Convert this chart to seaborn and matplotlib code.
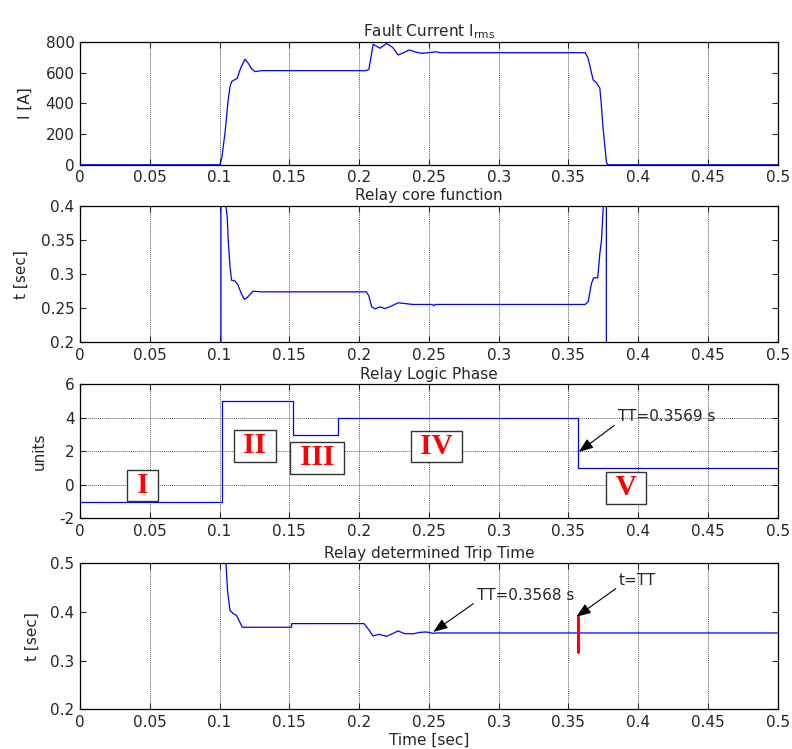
import matplotlib
matplotlib.use("Agg")
import matplotlib.pyplot as plt
import seaborn as sns

# ---- values ----
x_ticks = [0, 0.05, 0.1, 0.15, 0.2, 0.25, 0.3, 0.35, 0.4, 0.45, 0.5]
x_tick_labels = ["0", "0.05", "0.1", "0.15", "0.2", "0.25", "0.3", "0.35", "0.4", "0.45", "0.5"]

# panel 1: fault current (A)
current_t = [0, 0.1003, 0.1017, 0.1039, 0.1062, 0.1075, 0.1087, 0.1127, 0.1151, 0.1182,
             0.1206, 0.1230, 0.1254, 0.1301, 0.2046, 0.2070, 0.2085, 0.2101, 0.2149, 0.2197,
             0.2240, 0.2280, 0.2320, 0.2360, 0.2400, 0.2447, 0.2500, 0.2550, 0.2580, 0.3620,
             0.3640, 0.3660, 0.3677, 0.3700, 0.3725, 0.3735, 0.3747, 0.3772, 0.3780, 0.5000]
current_a = [0, 0, 50, 207, 423, 509, 542, 564, 629, 687,
             661, 625, 607, 613, 613, 620, 700, 785, 759, 790,
             765, 715, 730, 748, 735, 726, 730, 736, 730, 730,
             696, 620, 553, 535, 500, 400, 250, 20, 0, 0]
current_yticks = [0, 200, 400, 600, 800]

# panel 2: relay core function (s); poles at pickup and drop-off
core_t = [0.1010, 0.1010, 0.1046, 0.1055, 0.1062, 0.1075, 0.1086, 0.1110, 0.1130, 0.1155,
          0.1177, 0.1200, 0.1240, 0.1300, 0.2053, 0.2070, 0.2090, 0.2115, 0.2150, 0.2185,
          0.2230, 0.2280, 0.2320, 0.2386, 0.2525, 0.2535, 0.2545, 0.3620, 0.3642, 0.3665,
          0.3680, 0.3710, 0.3725, 0.3737, 0.3750, 0.3772, 0.3772]
core_s = [0.0, 1.0, 0.400, 0.384, 0.350, 0.311, 0.291, 0.290, 0.285, 0.272,
          0.263, 0.266, 0.275, 0.274, 0.274, 0.268, 0.252, 0.249, 0.252, 0.2495,
          0.253, 0.258, 0.257, 0.2555, 0.2555, 0.2535, 0.2555, 0.2555, 0.260, 0.286,
          0.2946, 0.2946, 0.330, 0.350, 0.400, 1.0, 0.0]
core_yticks = [0.2, 0.25, 0.3, 0.35, 0.4]

# panel 3: relay logic phase
phase_t = [0, 0.1015, 0.1523, 0.1850, 0.3569, 0.5]
phase_u = [-1, 5, 3, 4, 1, 1]
phase_yticks = [-2, 0, 2, 4, 6]
phase_names = ["I", "II", "III", "IV", "V"]
phase_label_t = [0.0449, 0.1254, 0.1698, 0.2555, 0.3913]
phase_label_u = [-0.05, 2.32, 1.60, 2.29, -0.18]

# panel 4: relay determined trip time (s)
trip_t = [0.1046, 0.1057, 0.1075, 0.1100, 0.1122, 0.1163, 0.1516, 0.1516, 0.2035, 0.2065,
          0.2100, 0.2140, 0.2197, 0.2244, 0.2280, 0.2325, 0.2387, 0.2435, 0.2483, 0.2530,
          0.2555, 0.5000]
trip_s = [0.500, 0.4445, 0.403, 0.396, 0.393, 0.3685, 0.3685, 0.376, 0.376, 0.365,
          0.3506, 0.354, 0.350, 0.356, 0.361, 0.3555, 0.355, 0.358, 0.3588, 0.356,
          0.3568, 0.3568]
trip_mark_t = [0.3568, 0.3568]
trip_mark_s = [0.318, 0.389]
trip_yticks = [0.2, 0.3, 0.4, 0.5]

sns.set_style("ticks")
plt.rcParams["font.family"] = ["DejaVu Sans"]
plt.rcParams["font.size"] = 11
plt.rcParams["mathtext.default"] = "regular"

fig = plt.figure(figsize=(7.92, 7.49), dpi=100)
ax1 = fig.add_axes([0.101, 0.780, 0.881, 0.164])
ax2 = fig.add_axes([0.101, 0.543, 0.881, 0.182])
ax3 = fig.add_axes([0.101, 0.308, 0.881, 0.179])
ax4 = fig.add_axes([0.101, 0.053, 0.881, 0.195])

blue = "#0000ff"
sns.lineplot(x=current_t, y=current_a, ax=ax1, color=blue, lw=0.9, sort=False, estimator=None)
sns.lineplot(x=core_t, y=core_s, ax=ax2, color=blue, lw=0.9, sort=False, estimator=None)
sns.lineplot(x=phase_t, y=phase_u, ax=ax3, color=blue, lw=0.9, sort=False, estimator=None,
             drawstyle="steps-post")
sns.lineplot(x=trip_t, y=trip_s, ax=ax4, color=blue, lw=0.9, sort=False, estimator=None)
sns.lineplot(x=trip_mark_t, y=trip_mark_s, ax=ax4, color="red", lw=2.2, sort=False, estimator=None)


def style(ax, yticks, title, ylabel, label_x, both_grid=False):
    ax.set_xlim(0, 0.5)
    ax.set_ylim(yticks[0], yticks[-1])
    ax.set_xticks(x_ticks)
    ax.set_xticklabels(x_tick_labels)
    ax.set_yticks(yticks)
    ax.set_yticklabels([f"{v:g}" for v in yticks])
    ax.tick_params(direction="in", top=True, right=True, length=4, width=0.8,
                   labelsize=11, pad=4)
    for s in ax.spines.values():
        s.set_linewidth(0.9)
        s.set_color("black")
    ax.grid(True, axis="both" if both_grid else "x", color="0.35",
            linestyle=(0, (1, 1)), lw=0.7)
    ax.set_title(title, fontsize=11, pad=4)
    ax.set_xlabel("")
    ax.set_ylabel(ylabel, fontsize=11)
    ax.yaxis.set_label_coords(label_x, 0.5)


style(ax1, current_yticks, "Fault Current I$_{rms}$", "I [A]", -0.067)
style(ax2, core_yticks, "Relay core function", "t [sec]", -0.073)
style(ax3, phase_yticks, "Relay Logic Phase", "units", -0.048, both_grid=True)
style(ax4, trip_yticks, "Relay determined Trip Time", "t [sec]", -0.058)
ax4.set_xlabel("Time [sec]", fontsize=11, labelpad=2)

for name, t, u in zip(phase_names, phase_label_t, phase_label_u):
    ax3.text(t, u, f" {name} ", color="red", fontsize=21, fontweight="bold",
             family=["Liberation Serif", "DejaVu Serif"], ha="center", va="center",
             bbox=dict(boxstyle="square,pad=0.08", fc="white", ec="0.2", lw=1.0))

arrow = dict(arrowstyle="-|>,head_length=0.8,head_width=0.3", color="black", lw=0.8,
             shrinkA=0, shrinkB=0, relpos=(0, 0.1))
ax3.annotate("TT=0.3569 s", xy=(0.3574, 1.96), xytext=(0.3853, 4.05),
             ha="left", va="center", fontsize=11, arrowprops=arrow)
ax4.annotate("TT=0.3568 s", xy=(0.2531, 0.3589), xytext=(0.2842, 0.434),
             ha="left", va="center", fontsize=11, arrowprops=arrow)
ax4.annotate("t=TT", xy=(0.3557, 0.390), xytext=(0.3863, 0.465),
             ha="left", va="center", fontsize=11, arrowprops=arrow)

fig.savefig("out.png", dpi=100)
